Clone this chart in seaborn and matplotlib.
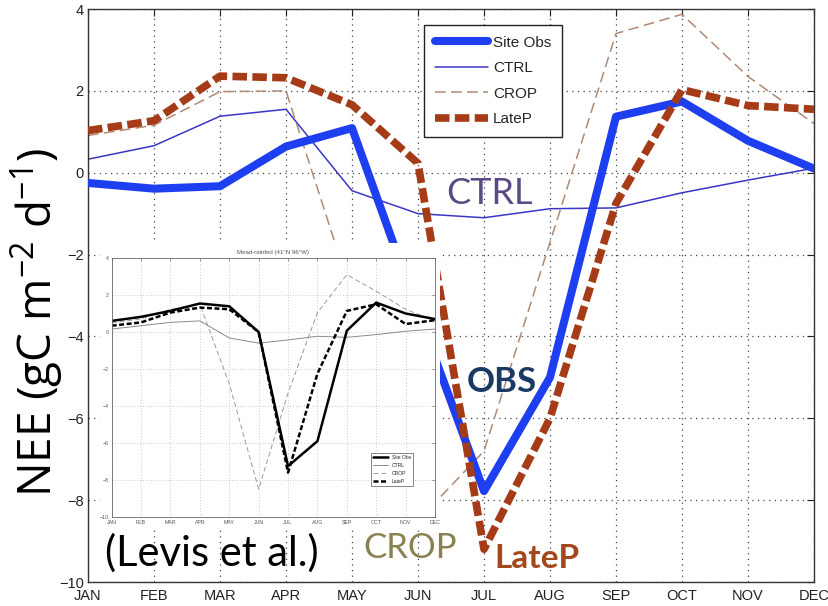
import numpy as np
import pandas as pd
import matplotlib
matplotlib.use("Agg")
import matplotlib.pyplot as plt
import seaborn as sns
from matplotlib.patches import Rectangle

# month axis
months = ["JAN", "FEB", "MAR", "APR", "MAY", "JUN", "JUL", "AUG", "SEP", "OCT", "NOV", "DEC"]

# main panel, NEE (gC m-2 d-1)
site_obs = [-0.25, -0.39, -0.33, 0.64, 1.09, -3.4, -7.78, -5.0, 1.37, 1.74, 0.78, 0.1]
ctrl = [0.33, 0.66, 1.38, 1.55, -0.44, -1.0, -1.1, -0.88, -0.86, -0.49, -0.18, 0.11]
crop = [0.91, 1.16, 1.98, 2.0, -3.0, -8.5, -6.8, -1.7, 3.4, 3.87, 2.35, 1.2]
late_p = [1.03, 1.27, 2.36, 2.32, 1.66, 0.23, -9.2, -6.0, -0.75, 2.03, 1.64, 1.55]

# inset (Levis et al.)
in_obs = [0.6, 0.82, 1.14, 1.54, 1.39, 0.0, -7.25, -5.9, 0.07, 1.59, 1.0, 0.7]
in_ctrl = [0.16, 0.34, 0.52, 0.6, -0.32, -0.6, -0.43, -0.23, -0.29, -0.14, 0.04, 0.16]
in_crop = [0.5, 0.7, 1.23, 1.5, -2.8, -8.5, -3.3, 1.05, 3.1, 2.2, 1.23, 0.6]
in_latep = [0.34, 0.52, 1.05, 1.32, 1.23, 0.0, -7.6, -2.25, 1.14, 1.5, 0.43, 0.64]

yticks = [4, 2, 0, -2, -4, -6, -8, -10]

sns.set_theme(style="white")
plt.rcParams["font.family"] = ["Liberation Sans", "DejaVu Sans"]
plt.rcParams["xtick.direction"] = "in"
plt.rcParams["ytick.direction"] = "in"
plt.rcParams["mathtext.fontset"] = "custom"
plt.rcParams["mathtext.rm"] = "Open Sans"
plt.rcParams["mathtext.default"] = "regular"

W, H = 829, 606
fig = plt.figure(figsize=(W / 100, H / 100), dpi=100)


def fx(px):
    return px / W


def fy(py):
    return 1 - py / H


ax = fig.add_axes([fx(88), fy(582), (814 - 88) / W, (582 - 9) / H])
x = np.arange(len(months))

sns.lineplot(x=x, y=ctrl, ax=ax, color="#3a36c8", lw=1.1, label="CTRL", zorder=2)
sns.lineplot(x=x, y=crop, ax=ax, color="#b08a72", lw=1.1, linestyle=(0, (7, 3.5)),
             label="CROP", zorder=2)
sns.lineplot(x=x, y=site_obs, ax=ax, color="#1e3ff0", lw=5.8, label="Site Obs", zorder=3)
sns.lineplot(x=x, y=late_p, ax=ax, color="#a53b17", lw=5.5, linestyle=(0, (1.9, 0.7)),
             label="LateP", zorder=4)

ax.set_xlim(0, 11)
ax.set_ylim(-10, 4)
ax.set_xticks(x)
ax.set_xticklabels(months)
ax.set_yticks(yticks)
ax.tick_params(axis="both", labelsize=10.5, colors="#222222", length=5, width=0.8,
               top=True, right=True)
ax.tick_params(axis="x", pad=5)
ax.tick_params(axis="y", pad=3)
ax.grid(True, color="#444444", linestyle=(0, (1, 3.5)), lw=0.9)
for s in ax.spines.values():
    s.set_color("#333333")
    s.set_linewidth(1.0)

ax.set_ylabel("NEE (gC m$^{-2}$ d$^{-1}$)", fontsize=33,
              family=["Open Sans", "DejaVu Sans"], color="black")
ax.yaxis.set_label_coords(-0.032, 0.454)

handles, labels = ax.get_legend_handles_labels()
order = [labels.index(k) for k in ["Site Obs", "CTRL", "CROP", "LateP"]]
leg = ax.legend([handles[i] for i in order], [labels[i] for i in order],
                loc="upper left", bbox_to_anchor=(0.463, 0.972), fontsize=11,
                handlelength=3.5, handletextpad=0.3, labelspacing=0.75,
                borderpad=0.7, borderaxespad=0, fancybox=False, framealpha=1,
                edgecolor="#222222")
leg.get_frame().set_linewidth(1.0)

# white backdrop for the pasted inset
ax.add_patch(Rectangle((fx(100), fy(530)), 340 / W, 287 / H, transform=fig.transFigure,
                       facecolor="white", edgecolor="none", zorder=5, clip_on=False))

# inset
axin = fig.add_axes([fx(111.7), fy(517), 323.3 / W, 259 / H])
sns.lineplot(x=x, y=in_ctrl, ax=axin, color="#8a8a8a", lw=0.7, label="CTRL")
sns.lineplot(x=x, y=in_crop, ax=axin, color="#9a9a9a", lw=0.7, linestyle=(0, (5, 3)),
             label="CROP")
sns.lineplot(x=x, y=in_obs, ax=axin, color="black", lw=1.8, label="Site Obs")
sns.lineplot(x=x, y=in_latep, ax=axin, color="black", lw=1.8, linestyle=(0, (2, 1)),
             label="LateP")
axin.set_xlim(0, 11)
axin.set_ylim(-10, 4)
axin.set_xticks(x)
axin.set_xticklabels(months)
axin.set_yticks(yticks)
axin.tick_params(axis="both", labelsize=3.8, colors="#555555", length=2, width=0.4,
                 top=True, right=True, pad=2)
axin.grid(True, color="#999999", linestyle=(0, (1, 3)), lw=0.5)
for s in axin.spines.values():
    s.set_color("#666666")
    s.set_linewidth(0.6)
axin.set_title("Mead-rainfed (41°N 96°W)", fontsize=4.4, color="#555555", pad=3)
h2, l2 = axin.get_legend_handles_labels()
order2 = [l2.index(k) for k in ["Site Obs", "CTRL", "CROP", "LateP"]]
leg2 = axin.legend([h2[i] for i in order2], [l2[i] for i in order2], loc="lower right",
                   bbox_to_anchor=(0.94, 0.11), fontsize=3.6, handlelength=3,
                   labelspacing=0.6, fancybox=False, framealpha=1, edgecolor="#555555")
leg2.get_frame().set_linewidth(0.5)

# annotations
calibri = ["Lato", "DejaVu Sans"]
fig.text(fx(490), fy(193), "CTRL", fontsize=26, color="#5a4a86", family=calibri,
         ha="center", va="center")
fig.text(fx(502), fy(382), "OBS", fontsize=25, color="#1b3a63", family=calibri,
         weight="bold", ha="center", va="center")
fig.text(fx(410), fy(548), "CROP", fontsize=25, color="#8a8152", family=calibri,
         ha="center", va="center")
fig.text(fx(537), fy(558), "LateP", fontsize=24, color="#a3471c", family=calibri,
         weight="bold", ha="center", va="center")
fig.text(fx(212), fy(553), "(Levis et al.)", fontsize=30, color="black", family=calibri,
         ha="center", va="center")

fig.savefig("out.png", dpi=100)
